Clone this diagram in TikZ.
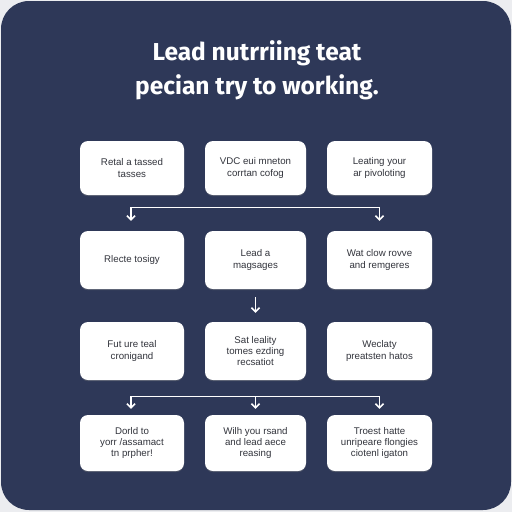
\documentclass[tikz,border=0pt]{standalone}
\usepackage{fontspec}
\setmainfont{Liberation Sans}
\newfontfamily\titlefont{Fira Sans}
\usetikzlibrary{arrows.meta,shadows}
\definecolor{navy}{RGB}{46,56,88}
\definecolor{boxtext}{RGB}{50,52,60}
\definecolor{outer}{RGB}{236,237,240}
\tikzset{
  card/.style={rectangle, rounded corners=8pt, fill=white, draw=none,
    drop shadow={opacity=0.35, shadow xshift=0pt, shadow yshift=-1.2pt},
    text=boxtext, align=center, inner sep=0pt,
    font=\fontsize{9.7pt}{11.4pt}\selectfont},
  wire/.style={draw=white, line width=1.3pt},
  arr/.style={wire, -{Straight Barb[length=4pt,width=8pt,line width=1.5pt]}},
  ttl/.style={text=white, align=center, font=\titlefont\bfseries\fontsize{24.5pt}{34pt}\selectfont}
}
\begin{document}
\begin{tikzpicture}[x=1pt,y=-1pt]
\useasboundingbox (0,0) rectangle (512,512);
\fill[outer] (0,0) rectangle (512,512);
\fill[navy, rounded corners=28pt] (1,1) rectangle (511,510);
\node[ttl] (title) at (257,70) {Lead nutrriing teat\\pecian try to working.};
% row 1
\node[card, minimum width=104pt, minimum height=54pt] (r1c1) at (132,168) {Retal a tassed\\tasses};
\node[card, minimum width=101pt, minimum height=54pt] (r1c2) at (255.5,168) {VDC eui mneton\\corrtan cofog};
\node[card, minimum width=105pt, minimum height=54pt] (r1c3) at (379.5,168) {Leating your\\ar pivoloting};
% row 2
\node[card, minimum width=104pt, minimum height=58pt] (r2c1) at (132,260) {Rlecte tosigy};
\node[card, minimum width=101pt, minimum height=58pt] (r2c2) at (255.5,260) {Lead a\\magsages};
\node[card, minimum width=105pt, minimum height=58pt] (r2c3) at (379.5,260) {Wat clow rovve\\and remgeres};
% row 3
\node[card, minimum width=104pt, minimum height=58pt] (r3c1) at (132,351) {Fut ure teal\\cronigand};
\node[card, minimum width=101pt, minimum height=58pt] (r3c2) at (255.5,351) {Sat leality\\tomes ezding\\recsatiot};
\node[card, minimum width=105pt, minimum height=58pt] (r3c3) at (379.5,351) {Weclaty\\preatsten hatos};
% row 4
\node[card, minimum width=104pt, minimum height=56pt] (r4c1) at (132,443) {Dorld to\\yorr /assamact\\tn prpher!};
\node[card, minimum width=101pt, minimum height=56pt] (r4c2) at (255.5,443) {Wilh you rsand\\and lead aece\\reasing};
\node[card, minimum width=105pt, minimum height=56pt] (r4c3) at (379.5,443) {Troest hatte\\unripeare flongies\\ciotenl igaton};
% connectors
\coordinate (busAL) at ([xshift=-1pt,yshift=23pt]r2c1.north);
\coordinate (busAR) at ([yshift=23pt]r2c3.north);
\draw[wire, line cap=rect] (busAL) -- (busAR);
\draw[arr] (busAL) -- ([xshift=-1pt,yshift=10pt]r2c1.north);
\draw[arr] (busAR) -- ([yshift=10pt]r2c3.north);
\draw[arr] ([yshift=-8pt]r2c2.south) -- ([yshift=9pt]r3c2.north);
\coordinate (busBL) at ([xshift=-1pt,yshift=18pt]r4c1.north);
\coordinate (busBR) at ([yshift=18pt]r4c3.north);
\draw[wire, line cap=rect] (busBL) -- (busBR);
\draw[arr] (busBL) -- ([xshift=-1pt,yshift=6pt]r4c1.north);
\draw[arr] ([yshift=18pt]r4c2.north) -- ([yshift=6pt]r4c2.north);
\draw[arr] (busBR) -- ([yshift=6pt]r4c3.north);
\end{tikzpicture}
\end{document}
